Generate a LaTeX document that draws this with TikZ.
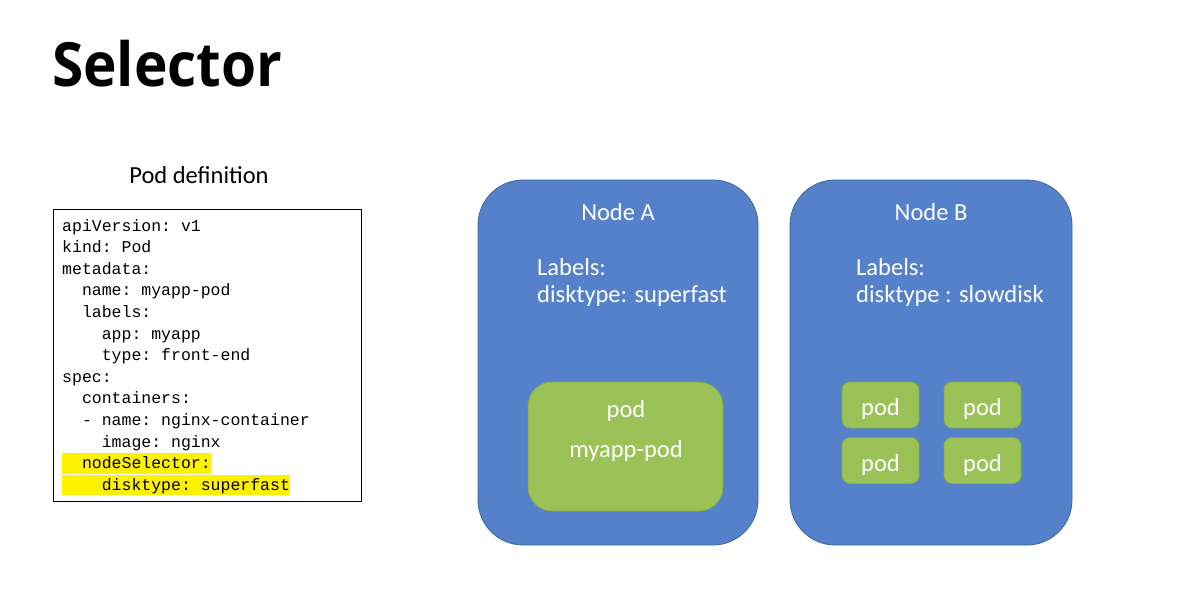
\documentclass[tikz,border=0pt]{standalone}
\usepackage{fontspec}
\setmainfont{Carlito}
\setmonofont{Liberation Mono}
\newfontfamily\titlefont{Open Sans}
\usetikzlibrary{positioning}

\definecolor{nodeblue}{HTML}{5581CB}
\definecolor{nodeedge}{HTML}{41679F}
\definecolor{podgreen}{HTML}{9BC257}
\definecolor{podedge}{HTML}{86AB47}
\definecolor{hilite}{HTML}{FFF200}

\tikzset{
  knode/.style={draw=nodeedge, fill=nodeblue, rounded corners=45pt, line width=0.8pt},
  podbox/.style={draw=podedge, fill=podgreen, rounded corners=8pt, line width=0.8pt,
    minimum width=77pt, minimum height=46pt, text height=21pt, text depth=0pt,
    text=white, font=\fontsize{24.5}{27}\selectfont},
  whitetxt/.style={text=white, font=\fontsize{24.5}{27}\selectfont},
  codeline/.style={anchor=base west, inner sep=0pt, font=\fontsize{16.5}{20}\ttfamily},
  hiline/.style={codeline, fill=hilite, text height=15.5pt, text depth=5pt, inner ysep=0pt}
}

\begin{document}
\begin{tikzpicture}[x=1pt, y=-1pt]
    \useasboundingbox[fill=white] (0,0) rectangle (1189,605);

    % Title
    \node[anchor=base west, inner sep=0pt, xscale=0.93, transform shape,
      font=\fontsize{61}{70}\titlefont\bfseries] (title) at (52,86) {Selector};

    % Pod definition
    \node[font=\fontsize{24.5}{27}\selectfont] (podlabel) at (199,175) {Pod definition};
    \draw[line width=0.8pt] (53,209) rectangle (361,501);
    \foreach \txt [count=\i] in {apiVersion: v1, kind: Pod, metadata:, \ \ name: myapp-pod,
        \ \ labels:, \ \ \ \ app: myapp, \ \ \ \ type: front-end, spec:, \ \ containers:,
        \ \ - name: nginx-container, \ \ \ \ image: nginx}
      \node[codeline] (code\i) at (62,{231+21.6*(\i-1)}) {\txt};
    \node[hiline] (code12) at (62,{231+21.6*11}) {\ \ nodeSelector:};
    \node[hiline] (code13) at (62,{231+21.6*12}) {\ \ \ \ disktype: superfast};

    % Node A
    \draw[knode] (478,180) rectangle (758,545);
    \node[whitetxt] (nameA) at (618,212) {Node A};
    \node[whitetxt, anchor=west, align=left, inner sep=0pt] (labelsA) at (537,282)
        {Labels:\\disktype: superfast};
    \draw[podbox, rounded corners=24pt] (528,382) rectangle (723,511);
    \node[whitetxt] (podA) at (626,411) {pod};
    \node[whitetxt] (myapp) at (626,451) {myapp-pod};

    % Node B
    \draw[knode] (790,180) rectangle (1072,545);
    \node[whitetxt] (nameB) at (931,212) {Node B};
    \node[whitetxt, anchor=west, align=left, inner sep=0pt] (labelsB) at (856,282)
        {Labels:\\disktype : slowdisk};
    \node[podbox] (podB1) at (880.5,405) {pod};
    \node[podbox] (podB2) at (982.5,405) {pod};
    \node[podbox] (podB3) at (880.5,460.5) {pod};
    \node[podbox] (podB4) at (982.5,460.5) {pod};
\end{tikzpicture}
\end{document}
